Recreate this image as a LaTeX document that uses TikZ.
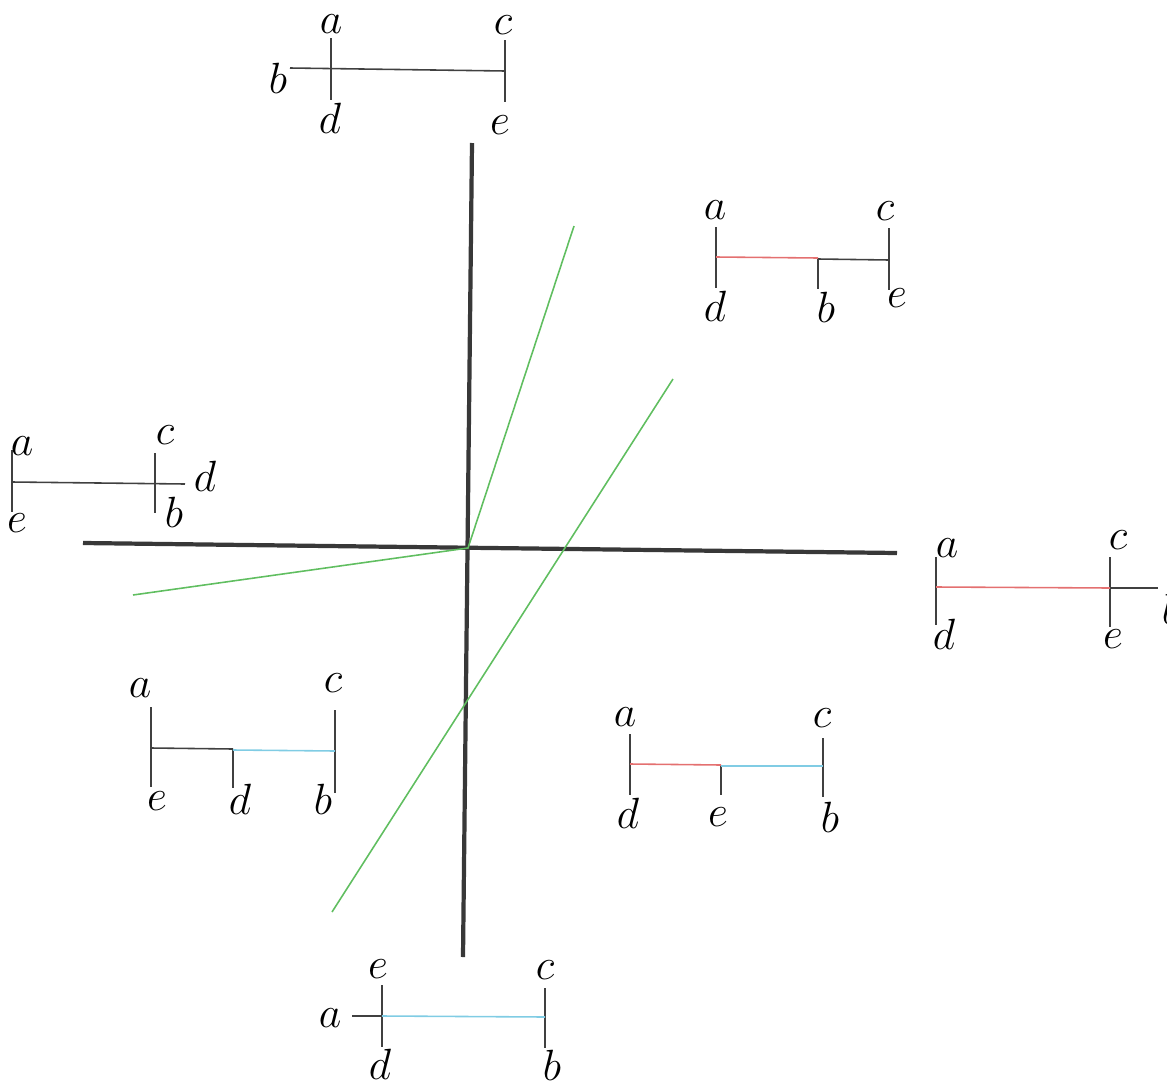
\documentclass[tikz,border=0pt]{standalone}
\definecolor{lred}{RGB}{228,112,112}
\definecolor{lblue}{RGB}{128,204,228}
\definecolor{lgreen}{RGB}{96,190,96}

\begin{document}
\begin{tikzpicture}[x=0.02cm,y=-0.02cm,
    axis/.style={line width=2.4pt,black!78},
    tk/.style={line width=0.9pt,black!75},
    seg/.style={line width=0.9pt},
    lbl/.style={font=\fontsize{23}{26}\selectfont,inner sep=0pt,execute at begin node=$,execute at end node=$}]
    \clip (0,0) rectangle (1167,1082);
    % axes and green lines
    \draw[axis] (83,543) -- (897,553);
    \draw[axis] (472,143) -- (463,957);
    \draw[seg,lgreen] (133,595) -- (468,548) -- (574,226);
    \draw[seg,lgreen] (332,912) -- (673,379);
    % top
    \draw[tk] (331,38) -- (331,100);
    \draw[tk] (505,40) -- (505,102);
    \draw[tk] (290,68) -- (505,71);
    \node[lbl] (ta) at (331,24) {a};
    \node[lbl] (tc) at (503,25) {c};
    \node[lbl] (tb) at (278,78) {b};
    \node[lbl] (td) at (330,118) {d};
    \node[lbl] (te) at (500,125) {e};
    % upper right
    \draw[tk] (716,227) -- (716,288);
    \draw[tk] (818,258) -- (818,289);
    \draw[tk] (889,228) -- (889,290);
    \draw[seg,lred] (716,257) -- (818,258);
    \draw[tk] (818,259) -- (889,260);
    \node[lbl] (ura) at (715,210) {a};
    \node[lbl] (urc) at (885,211) {c};
    \node[lbl] (urd) at (715,306) {d};
    \node[lbl] (urb) at (826,307) {b};
    \node[lbl] (ure) at (897,298) {e};
    % left
    \draw[tk] (12,450) -- (12,512);
    \draw[tk] (155,453) -- (155,513);
    \draw[tk] (12,482) -- (185,484);
    \node[lbl] (la) at (22,446) {a};
    \node[lbl] (lc) at (165,435) {c};
    \node[lbl] (ld) at (205,476) {d};
    \node[lbl] (le) at (17,523) {e};
    \node[lbl] (lb) at (174,512) {b};
    % right
    \draw[tk] (936,557) -- (936,625);
    \draw[tk] (1110,557) -- (1110,627);
    \draw[seg,lred] (936,587) -- (1110,588);
    \draw[tk] (1110,588) -- (1158,588);
    \node[lbl] (ra) at (947,548) {a};
    \node[lbl] (rc) at (1118,540) {c};
    \node[lbl] (rd) at (944,634) {d};
    \node[lbl] (re) at (1113,639) {e};
    \node[lbl] (rb) at (1171,609) {b};
    % lower left
    \draw[tk] (151,707) -- (151,787);
    \draw[tk] (233,749) -- (233,788);
    \draw[tk] (335,710) -- (335,793);
    \draw[tk] (151,748) -- (233,749);
    \draw[seg,lblue] (233,750) -- (335,751);
    \node[lbl] (lla) at (140,688) {a};
    \node[lbl] (llc) at (333,683) {c};
    \node[lbl] (lle) at (157,801) {e};
    \node[lbl] (lld) at (240,799) {d};
    \node[lbl] (llb) at (323,799) {b};
    % lower right
    \draw[tk] (630,734) -- (630,795);
    \draw[tk] (721,765) -- (721,795);
    \draw[tk] (823,738) -- (823,797);
    \draw[seg,lred] (630,764) -- (721,765);
    \draw[seg,lblue] (721,766) -- (823,766);
    \node[lbl] (lra) at (625,717) {a};
    \node[lbl] (lrc) at (822,718) {c};
    \node[lbl] (lrd) at (628,813) {d};
    \node[lbl] (lre) at (718,817) {e};
    \node[lbl] (lrb) at (830,817) {b};
    % bottom
    \draw[tk] (382,985) -- (382,1047);
    \draw[tk] (545,988) -- (545,1048);
    \draw[tk] (352,1016) -- (382,1016);
    \draw[seg,lblue] (382,1016) -- (545,1017);
    \node[lbl] (be) at (378,969) {e};
    \node[lbl] (bc) at (545,970) {c};
    \node[lbl] (ba) at (330,1018) {a};
    \node[lbl] (bd) at (380,1064) {d};
    \node[lbl] (bb) at (552,1065) {b};
\end{tikzpicture}
\end{document}
